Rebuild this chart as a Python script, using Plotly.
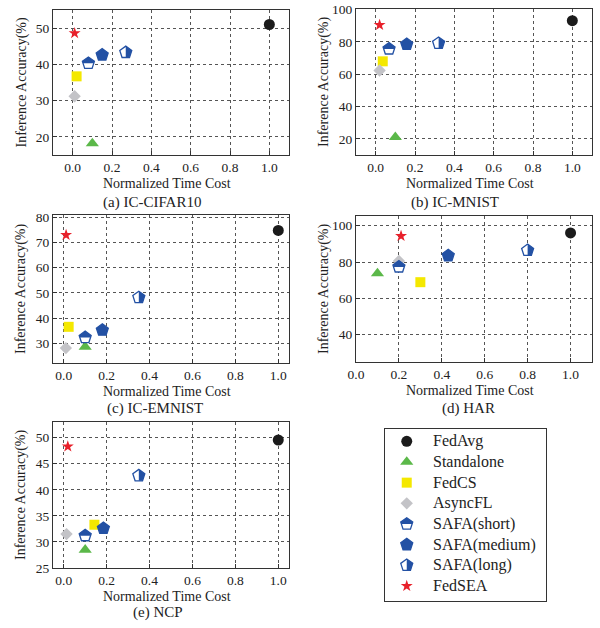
import plotly.graph_objects as go

# ---------------- data ----------------
METHODS = ["FedAvg", "Standalone", "FedCS", "AsyncFL",
           "SAFA(short)", "SAFA(medium)", "SAFA(long)", "FedSEA"]

CIFAR10_TIME = [1.0, 0.10, 0.02, 0.01, 0.08, 0.15, 0.27, 0.01]
CIFAR10_ACC = [51.0, 18.2, 36.7, 31.2, 40.3, 42.6, 43.3, 48.6]

MNIST_TIME = [1.0, 0.10, 0.036, 0.02, 0.068, 0.158, 0.32, 0.02]
MNIST_ACC = [93.2, 21.0, 68.0, 62.3, 75.7, 78.5, 79.2, 90.5]

EMNIST_TIME = [1.0, 0.10, 0.023, 0.01, 0.10, 0.18, 0.35, 0.011]
EMNIST_ACC = [74.7, 28.7, 36.6, 28.2, 32.4, 35.3, 48.2, 72.9]

HAR_TIME = [1.0, 0.10, 0.30, 0.20, 0.20, 0.43, 0.80, 0.21]
HAR_ACC = [96.0, 73.7, 68.9, 80.6, 77.3, 83.5, 86.4, 94.3]

NCP_TIME = [1.0, 0.10, 0.143, 0.013, 0.10, 0.185, 0.35, 0.019]
NCP_ACC = [49.55, 28.5, 33.3, 31.5, 31.2, 32.6, 42.7, 48.3]

X_TICKS = [0.0, 0.2, 0.4, 0.6, 0.8, 1.0]
CIFAR10_YTICKS = [20, 30, 40, 50]
MNIST_YTICKS = [20, 40, 60, 80, 100]
EMNIST_YTICKS = [30, 40, 50, 60, 70, 80]
HAR_YTICKS = [40, 60, 80, 100]
NCP_YTICKS = [25, 30, 35, 40, 45, 50]

# ---------------- style ----------------
W, H = 600, 628
FONT = "Liberation Serif, Times New Roman, serif"
TXT = "#222222"
AX = "#333333"
BLUE = "#2351a4"

SYMBOLS = ["circle", "triangle-up", "square", "diamond",
           "pentagon", "pentagon", "pentagon", "star"]
FILLS = ["#1b1b1b", "#5bb849", "#f4e800", "#c3c3c7",
         "#ffffff", BLUE, "#ffffff", "#e8202a"]
LINES = [None, None, None, None, BLUE, BLUE, BLUE, None]
SIZES = [11, 11.5, 10, 9.5, 12.6, 12.6, 12.6, 9]
HALF = [None, None, None, None, "top", None, "right", None]
PR = 6.3  # pentagon radius in px


def half_path(kind, r=PR):
    if kind == "top":
        pts = [(0, r), (-0.951 * r, 0.309 * r), (-0.851 * r, 0),
               (0.851 * r, 0), (0.951 * r, 0.309 * r)]
    else:
        pts = [(0, r), (0.951 * r, 0.309 * r), (0.588 * r, -0.809 * r),
               (0, -0.809 * r)]
    return "M " + " L ".join(f"{x:.2f},{y:.2f}" for x, y in pts) + " Z"


def px_x(p):
    return p / W


def px_y(p):
    return 1 - p / H


# panel boxes in page pixels: (left, right, top, bottom)
panels = [
    dict(title="(a) IC-CIFAR10", x=CIFAR10_TIME, y=CIFAR10_ACC, yt=CIFAR10_YTICKS,
         box=(53, 289, 10, 155), xr=[-0.1, 1.1], yr=[15, 55], tx=152, ty=202),
    dict(title="(b) IC-MNIST", x=MNIST_TIME, y=MNIST_ACC, yt=MNIST_YTICKS,
         box=(356, 592, 9, 155), xr=[-0.1, 1.1], yr=[10, 100.4], tx=455, ty=202),
    dict(title="(c) IC-EMNIST", x=EMNIST_TIME, y=EMNIST_ACC, yt=EMNIST_YTICKS,
         box=(53, 289, 215, 363), xr=[-0.05, 1.05], yr=[22.3, 80.8], tx=155, ty=408),
    dict(title="(d) HAR", x=HAR_TIME, y=HAR_ACC, yt=HAR_YTICKS,
         box=(356, 592, 216, 362), xr=[0, 1.1], yr=[25, 105.3], tx=468, ty=408),
    dict(title="(e) NCP", x=NCP_TIME, y=NCP_ACC, yt=NCP_YTICKS,
         box=(53, 289, 422, 568), xr=[-0.05, 1.05], yr=[25, 53], tx=158, ty=612),
]

fig = go.Figure()
shapes = []
annotations = []
layout = {}

for k, p in enumerate(panels, start=1):
    xa = "x" if k == 1 else f"x{k}"
    ya = "y" if k == 1 else f"y{k}"
    l, r, t, b = p["box"]
    common = dict(showline=True, mirror=True, linecolor=AX, linewidth=1.2,
                  ticks="inside", ticklen=4, tickcolor=AX, tickwidth=1,
                  showgrid=True, gridcolor="#555555", griddash="dot", gridwidth=1,
                  zeroline=False, automargin=False, ticklabeloverflow="allow",
                  tickfont=dict(family=FONT, size=13.5, color=TXT))
    layout[f"xaxis{k if k > 1 else ''}"] = dict(
        domain=[px_x(l), px_x(r)], anchor=ya, range=p["xr"],
        tickvals=X_TICKS, tickformat=".1f", **common)
    layout[f"yaxis{k if k > 1 else ''}"] = dict(
        domain=[px_y(b), px_y(t)], anchor=xa, range=p["yr"],
        tickvals=p["yt"], tickformat="d", **common)

    for i, m in enumerate(METHODS):
        mk = dict(symbol=SYMBOLS[i], size=SIZES[i], color=FILLS[i])
        if LINES[i]:
            mk["line"] = dict(color=LINES[i], width=1.3)
        else:
            mk["line"] = dict(width=0)
        fig.add_trace(go.Scatter(x=[p["x"][i]], y=[p["y"][i]], mode="markers",
                                 marker=mk, name=m, xaxis=xa, yaxis=ya,
                                 showlegend=False))
        if HALF[i]:
            shapes.append(dict(type="path", xref=xa, yref=ya,
                               xsizemode="pixel", ysizemode="pixel",
                               xanchor=p["x"][i], yanchor=p["y"][i],
                               path=half_path(HALF[i]), fillcolor=BLUE,
                               line=dict(width=0, color="rgba(0,0,0,0)"),
                               layer="above"))

    annotations.append(dict(text="Normalized Time Cost", xref="paper", yref="paper",
                            x=px_x((l + r) / 2 - 4), y=px_y(b + 28),
                            xanchor="center", yanchor="middle", showarrow=False,
                            font=dict(family=FONT, size=14, color=TXT)))
    annotations.append(dict(text="Inference Accuracy(%)", xref="paper", yref="paper",
                            x=px_x(l - 32), y=px_y((t + b) / 2), textangle=-90,
                            xanchor="center", yanchor="middle", showarrow=False,
                            font=dict(family=FONT, size=14, color=TXT)))
    annotations.append(dict(text=p["title"], xref="paper", yref="paper",
                            x=px_x(p["tx"]), y=px_y(p["ty"]),
                            xanchor="center", yanchor="middle", showarrow=False,
                            font=dict(family=FONT, size=15, color=TXT)))

# ---------------- legend panel ----------------
LEG = (385, 546, 429, 601)
layout["xaxis6"] = dict(domain=[px_x(LEG[0]), px_x(LEG[1])], anchor="y6", range=[0, 1],
                        showline=True, mirror=True, linecolor=AX, linewidth=1.2,
                        showgrid=False, zeroline=False, showticklabels=False, ticks="",
                        automargin=False)
layout["yaxis6"] = dict(domain=[px_y(LEG[3]), px_y(LEG[2])], anchor="x6",
                        range=[7.726, -0.595],
                        showline=True, mirror=True, linecolor=AX, linewidth=1.2,
                        showgrid=False, zeroline=False, showticklabels=False, ticks="",
                        automargin=False)
LEG_MX, LEG_TX = 0.135, 0.286
for i, m in enumerate(METHODS):
    mk = dict(symbol=SYMBOLS[i], size=SIZES[i], color=FILLS[i])
    mk["line"] = dict(color=LINES[i], width=1.3) if LINES[i] else dict(width=0)
    fig.add_trace(go.Scatter(x=[LEG_MX], y=[i], mode="markers", marker=mk,
                             xaxis="x6", yaxis="y6", showlegend=False, hoverinfo="skip"))
    if HALF[i]:
        shapes.append(dict(type="path", xref="x6", yref="y6",
                           xsizemode="pixel", ysizemode="pixel",
                           xanchor=LEG_MX, yanchor=i, path=half_path(HALF[i]),
                           fillcolor=BLUE, line=dict(width=0, color="rgba(0,0,0,0)"),
                           layer="above"))
    annotations.append(dict(text=m, xref="x6", yref="y6", x=LEG_TX, y=i,
                            xanchor="left", yanchor="middle", showarrow=False,
                            font=dict(family=FONT, size=16, color=TXT)))

fig.update_layout(width=W, height=H,
                  margin=dict(l=0, r=0, t=0, b=0, pad=0, autoexpand=False),
                  paper_bgcolor="white", plot_bgcolor="white", showlegend=False,
                  shapes=shapes, annotations=annotations, **layout)

fig.write_html("out.html", config={"displayModeBar": False},
               post_script="document.body.style.margin='0';document.body.style.overflow='hidden';")
